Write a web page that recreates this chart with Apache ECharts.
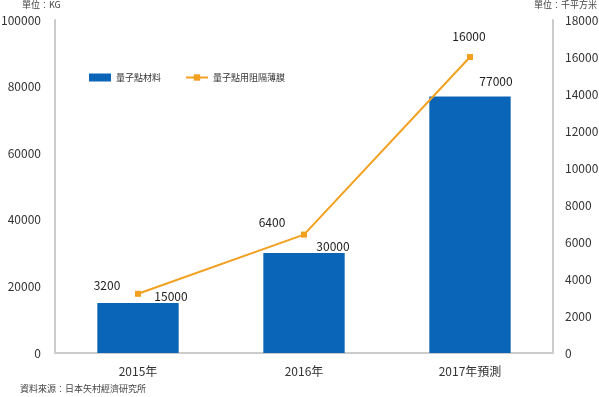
<!DOCTYPE html>
<html>
<head>
<meta charset="utf-8">
<script src="https://cdn.jsdelivr.net/npm/echarts@6/dist/echarts.min.js"></script>
<style>
  html, body { margin: 0; padding: 0; background: #fff; }
  #chart { width: 599px; height: 397px; }
</style>
</head>
<body>
<div id="chart"></div>
<script>
const categories = ['2015年', '2016年', '2017年預測'];
const materialKg = [15000, 30000, 77000];
const filmArea = [3200, 6400, 16000];
const leftTicks = [0, 20000, 40000, 60000, 80000, 100000];
const rightTicks = [0, 2000, 4000, 6000, 8000, 10000, 12000, 14000, 16000, 18000];

// label offsets per point
const barLabelOffsets = [[33, 4], [29, 4], [26, -4]];
const lineLabelOffsets = [[-31, 6], [-32, 2], [-1, -7]];

const font = '"Noto Sans CJK TC", "Open Sans", sans-serif';
const axisLine = { show: true, lineStyle: { color: '#cccccc', width: 2 } };

const chart = echarts.init(document.getElementById('chart'));
chart.setOption({
  animation: false,
  textStyle: { fontFamily: font },
  grid: { left: 55, right: 46, top: 20, bottom: 44, outerBoundsMode: 'none', containLabel: false },
  legend: {
    left: 84,
    top: 68,
    itemGap: 24,
    itemWidth: 22,
    itemHeight: 8,
    textStyle: { fontSize: 9, color: '#333' },
    data: [
      { name: '量子點材料', icon: 'rect' },
      { name: '量子點用阻隔薄膜' }
    ]
  },
  xAxis: {
    type: 'category',
    data: categories,
    axisLine: axisLine,
    axisTick: { show: false },
    axisLabel: { fontSize: 12, color: '#333', margin: 12 }
  },
  yAxis: [
    {
      type: 'value',
      min: 0,
      max: leftTicks[leftTicks.length - 1],
      interval: 20000,
      axisLine: axisLine,
      axisTick: { show: false },
      splitLine: { show: false },
      axisLabel: { fontSize: 12, color: '#333', margin: 14, formatter: v => String(v) }
    },
    {
      type: 'value',
      min: 0,
      max: rightTicks[rightTicks.length - 1],
      interval: 2000,
      axisLine: axisLine,
      axisTick: { show: false },
      splitLine: { show: false },
      axisLabel: { fontSize: 12, color: '#333', margin: 12, formatter: v => String(v) }
    }
  ],
  series: [
    {
      name: '量子點材料',
      type: 'bar',
      barWidth: '49%',
      itemStyle: { color: '#0a64b8' },
      data: materialKg.map((v, i) => ({
        value: v,
        label: {
          show: true,
          position: 'top',
          offset: barLabelOffsets[i],
          fontSize: 12,
          color: '#222'
        }
      }))
    },
    {
      name: '量子點用阻隔薄膜',
      type: 'line',
      yAxisIndex: 1,
      symbol: 'rect',
      symbolSize: 6,
      lineStyle: { color: '#f2a020', width: 2 },
      itemStyle: { color: '#f2a020' },
      data: filmArea.map((v, i) => ({
        value: v,
        label: {
          show: true,
          position: 'top',
          offset: lineLabelOffsets[i],
          fontSize: 12,
          color: '#222'
        }
      }))
    }
  ],
  graphic: [
    { type: 'text', left: 22, top: 0, style: { text: '單位：KG', fontSize: 9, fill: '#444', fontFamily: font } },
    { type: 'text', right: 2, top: 0, style: { text: '單位：千平方米', fontSize: 9, fill: '#444', fontFamily: font } },
    { type: 'text', left: 20, top: 384, style: { text: '資料來源：日本矢村經濟研究所', fontSize: 9, fill: '#444', fontFamily: font } }
  ]
});
</script>
</body>
</html>
